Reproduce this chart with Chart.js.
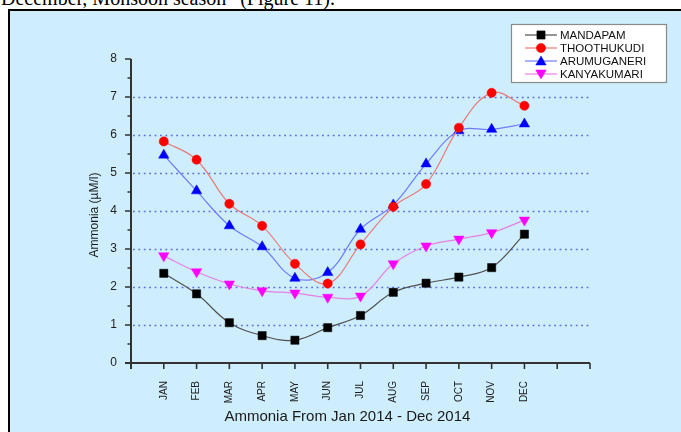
<!DOCTYPE html>
<html><head><meta charset="utf-8">
<script src="https://cdn.jsdelivr.net/npm/chart.js@4.4.0/dist/chart.umd.min.js"></script>
<style>
html,body{margin:0;padding:0;width:681px;height:432px;overflow:hidden;background:#fff;}
#cap{position:absolute;left:1px;top:-12px;font:20px "Liberation Serif","Times New Roman",serif;line-height:20px;white-space:nowrap;color:#000;}
#frame{position:absolute;left:8px;top:9px;width:700px;height:450px;border:2px solid #000;background:#cfeefd;}
#wrap{position:absolute;left:0;top:0;width:681px;height:432px;}
</style></head><body>
<div id="cap">December, Monsoon season” (Figure 11).</div>
<div id="frame"></div>
<div id="wrap"><canvas id="c" width="681" height="432"></canvas></div>
<script>
const months = ['JAN','FEB','MAR','APR','MAY','JUN','JUL','AUG','SEP','OCT','NOV','DEC'];
const mandapam    = [2.36,1.82,1.06,0.72,0.60,0.93,1.25,1.86,2.10,2.26,2.51,3.39];
const thoothukudi = [5.83,5.35,4.19,3.61,2.61,2.09,3.12,4.11,4.71,6.19,7.11,6.77];
const arumuganeri = [5.47,4.53,3.61,3.06,2.23,2.38,3.52,4.16,5.24,6.11,6.15,6.29];
const kanyakumari = [2.82,2.40,2.08,1.90,1.84,1.73,1.76,2.61,3.08,3.26,3.43,3.76];
const seriesNames = ['MANDAPAM','THOOTHUKUDI','ARUMUGANERI','KANYAKUMARI'];
const yTicks = [0,1,2,3,4,5,6,7,8];
const gridValues = [1,2,3,4,5,6,7];
const xTitle = 'Ammonia From Jan 2014 - Dec 2014';
const yTitle = 'Ammonia (\u00B5M/l)';

function pts(vals){ return vals.map((v,i)=>({x:i+1,y:v})); }

const styles = [
  {line:'#505050', fill:'#000000', ps:'rect', r:5.8, rot:0},
  {line:'#e87a7a', fill:'#ff0000', ps:'circle', r:4.6, rot:0},
  {line:'#6f7cff', fill:'#0000ff', ps:'triangle', r:6, rot:0},
  {line:'#e680e6', fill:'#ff00ff', ps:'triangle', r:6, rot:180}
];
const allVals = [mandapam, thoothukudi, arumuganeri, kanyakumari];

const datasets = allVals.map((vals,i)=>({
  label: seriesNames[i],
  data: pts(vals),
  borderColor: styles[i].line,
  borderWidth: 1.2,
  backgroundColor: styles[i].fill,
  pointBackgroundColor: styles[i].fill,
  pointBorderColor: styles[i].fill,
  pointBorderWidth: 0.5,
  pointStyle: styles[i].ps,
  pointRadius: styles[i].r,
  pointRotation: styles[i].rot,
  tension: 0.38,
  fill: false
}));

const axesPlugin = {
  id: 'axesPlugin',
  beforeDatasetsDraw(chart){
    const {ctx, chartArea:a, scales:{x, y}} = chart;
    ctx.save();
    ctx.strokeStyle = '#5b6dd8';
    ctx.lineWidth = 1.6;
    ctx.setLineDash([1.8, 3.6]);
    gridValues.forEach(v=>{
      const py = Math.round(y.getPixelForValue(v)) + 0.5;
      ctx.beginPath(); ctx.moveTo(a.left + 2, py); ctx.lineTo(a.right, py); ctx.stroke();
    });
    ctx.setLineDash([]);
    ctx.strokeStyle = '#333';
    ctx.lineWidth = 2;
    const x0 = x.getPixelForValue(0), y0 = y.getPixelForValue(0);
    ctx.beginPath();
    ctx.moveTo(x0, y0 + 6); ctx.lineTo(x0, y.getPixelForValue(8));
    ctx.moveTo(x0 - 6, y0); ctx.lineTo(x.getPixelForValue(14), y0);
    ctx.stroke();
    ctx.lineWidth = 1.6;
    ctx.beginPath();
    for (let v = 0; v <= 8; v += 0.5) {
      const py = y.getPixelForValue(v);
      const len = Number.isInteger(v) ? 6 : 3.5;
      ctx.moveTo(x0 - len, py); ctx.lineTo(x0, py);
    }
    for (let v = 1; v <= 14; v++) {
      const px = x.getPixelForValue(v);
      ctx.moveTo(px, y0); ctx.lineTo(px, y0 + 6);
    }
    ctx.stroke();
    ctx.restore();
  },
  afterDraw(chart){
    const {ctx, chartArea:a, scales:{x, y}} = chart;
    ctx.save();
    ctx.fillStyle = '#1a1a1a';
    ctx.font = '15px Arial, "Liberation Sans", sans-serif';
    ctx.textAlign = 'center'; ctx.textBaseline = 'middle';
    ctx.fillText(xTitle, x.getPixelForValue(6.6), 417);
    ctx.font = '12px Arial, "Liberation Sans", sans-serif';
    ctx.translate(95, (a.top + a.bottom) / 2 + 4);
    ctx.rotate(-Math.PI / 2);
    ctx.fillText(yTitle, 0, 0);
    ctx.restore();

    ctx.save();
    const L = 511, T = 24, W = 155, H = 58;
    ctx.fillStyle = '#ffffff';
    ctx.fillRect(L, T, W, H);
    ctx.strokeStyle = '#8a8a8a'; ctx.lineWidth = 1.2;
    ctx.strokeRect(L + 0.5, T + 0.5, W, H);
    ctx.font = '11.5px Arial, "Liberation Sans", sans-serif';
    ctx.textAlign = 'left'; ctx.textBaseline = 'middle';
    chart.data.datasets.forEach((ds, i)=>{
      const cy = 35 + i * 13;
      ctx.strokeStyle = ds.borderColor; ctx.lineWidth = 1.2;
      ctx.beginPath(); ctx.moveTo(525, cy); ctx.lineTo(557, cy); ctx.stroke();
      ctx.fillStyle = ds.pointBackgroundColor; ctx.strokeStyle = ds.pointBorderColor; ctx.lineWidth = 0.5;
      Chart.helpers.drawPoint(ctx, {pointStyle: ds.pointStyle, radius: ds.pointRadius, rotation: ds.pointRotation, borderWidth: 0.5}, 541, cy + (ds.pointStyle === 'triangle' ? (ds.pointRotation ? -1 : 1) : 0));
      ctx.fillStyle = '#111';
      ctx.fillText(ds.label, 560, cy + 0.5);
    });
    ctx.restore();
  }
};

new Chart(document.getElementById('c'), {
  type: 'line',
  data: { datasets },
  options: {
    responsive: false,
    animation: false,
    devicePixelRatio: 1,
    layout: { padding: { left: 0, top: 59, right: 91, bottom: 0 } },
    plugins: { legend: { display: false }, tooltip: { enabled: false } },
    scales: {
      x: {
        type: 'linear', min: 0, max: 14,
        afterFit(s){ s.height = 69; },
        grid: { display: false, drawTicks: false },
        border: { display: false },
        ticks: {
          stepSize: 1, autoSkip: false, minRotation: 90, maxRotation: 90,
          padding: 18, color: '#222',
          font: { family: 'Arial, "Liberation Sans", sans-serif', size: 10 },
          callback: (v)=> (v >= 1 && v <= months.length) ? months[v - 1] : ''
        }
      },
      y: {
        type: 'linear', min: 0, max: 8,
        afterFit(s){ s.width = 131; },
        grid: { display: false, drawTicks: false },
        border: { display: false },
        ticks: {
          stepSize: 1, padding: 14, color: '#222',
          font: { family: 'Arial, "Liberation Sans", sans-serif', size: 12 },
          callback: (v)=> yTicks.includes(v) ? String(v) : ''
        }
      }
    }
  },
  plugins: [axesPlugin]
});
</script>
</body></html>
